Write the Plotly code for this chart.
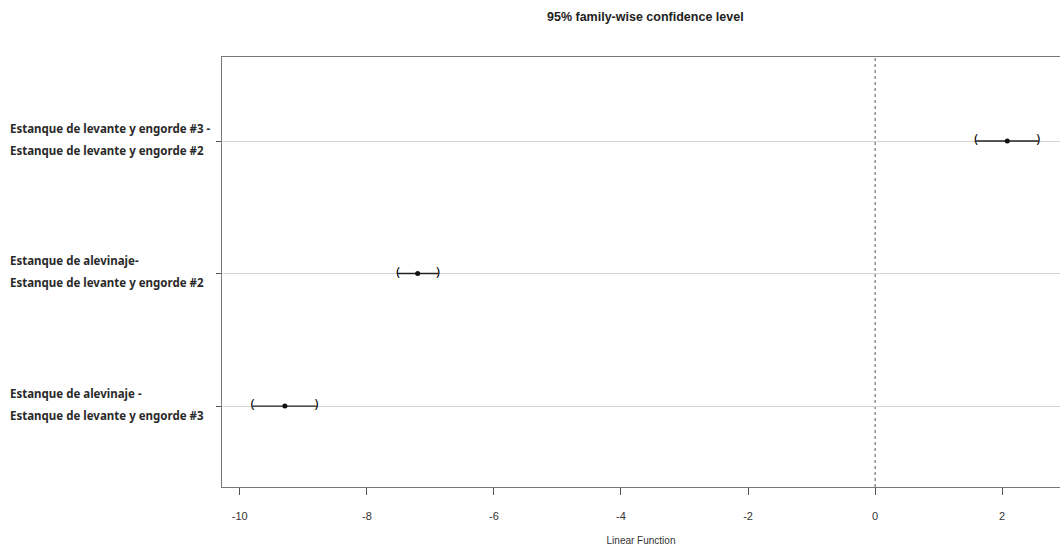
import plotly.graph_objects as go

comparisons = [
    ["Estanque de levante y engorde #3 -", "Estanque de levante y engorde #2"],
    ["Estanque de alevinaje-", "Estanque de levante y engorde #2"],
    ["Estanque de alevinaje -", "Estanque de levante y engorde #3"],
]
row_pos = [3, 2, 1]
estimate = [2.08, -7.20, -9.29]
lower = [1.59, -7.51, -9.80]
upper = [2.57, -6.88, -8.79]
x_ticks = [-10, -8, -6, -4, -2, 0, 2]
x_tick_text = ["-10", "-8", "-6", "-4", "-2", "0", "2"]

fig = go.Figure()

# interval lines
fig.add_trace(go.Scatter(
    x=estimate, y=row_pos, mode="markers",
    marker=dict(color="#111", size=5),
    error_x=dict(type="data", symmetric=False,
                 array=[u - e for u, e in zip(upper, estimate)],
                 arrayminus=[e - l for e, l in zip(estimate, lower)],
                 color="#222", thickness=1.3, width=0),
    showlegend=False, hoverinfo="skip"))
# bracket ends
fig.add_trace(go.Scatter(
    x=lower, y=row_pos, mode="text", text=["("] * len(lower),
    textfont=dict(size=13, color="#000000", family="DejaVu Sans"),
    textposition="middle center", showlegend=False, hoverinfo="skip"))
fig.add_trace(go.Scatter(
    x=upper, y=row_pos, mode="text", text=[")"] * len(upper),
    textfont=dict(size=13, color="#000000", family="DejaVu Sans"),
    textposition="middle center", showlegend=False, hoverinfo="skip"))

# zero line
fig.add_shape(type="line", xref="x", yref="paper", x0=0, x1=0, y0=0, y1=1,
              line=dict(color="#555", width=1, dash="3px,3px"), layer="below")

# category labels (two lines each)
for lines, yp in zip(comparisons, row_pos):
    for k, txt in enumerate(lines):
        fig.add_annotation(x=0, xref="paper", xanchor="left", xshift=-214,
                           y=yp, yref="y", yanchor="middle", yshift=13 - 22 * k,
                           text=txt, showarrow=False, align="left",
                           font=dict(family="Noto Sans", size=11.5, color="#2a2a2a", weight="bold"))

fig.add_annotation(text="95% family-wise confidence level", xref="paper", yref="paper",
                   x=0.505, y=1, yshift=40, xanchor="center", yanchor="middle",
                   showarrow=False,
                   font=dict(family="Liberation Sans", size=12.5, color="#222", weight="bold"))

fig.update_layout(
    width=1060, height=546,
    margin=dict(l=222, r=0, t=57, b=59),
    paper_bgcolor="white", plot_bgcolor="white",
    xaxis=dict(range=[-10.28, 2.91], tickvals=x_ticks, ticktext=x_tick_text,
               ticks="outside", ticklen=7, tickcolor="#555", ticklabelstandoff=12,
               showline=True, mirror=True, linecolor="#777", linewidth=1.3,
               showgrid=False, zeroline=False,
               tickfont=dict(family="Liberation Sans Narrow, Liberation Sans", size=11, color="#333"),
               title=dict(text="Linear Function", standoff=16,
                          font=dict(family="Liberation Sans Narrow, Liberation Sans", size=10, color="#333"))),
    yaxis=dict(range=[0.389, 3.634], tickvals=row_pos, ticktext=["", "", ""], ticks="outside",
               ticklen=5, tickcolor="#555", showline=True, mirror=False, linecolor="#777",
               linewidth=1.3, showgrid=True, gridcolor="#d4d4d4", gridwidth=1, zeroline=False),
)

fig.write_html("out.html")
